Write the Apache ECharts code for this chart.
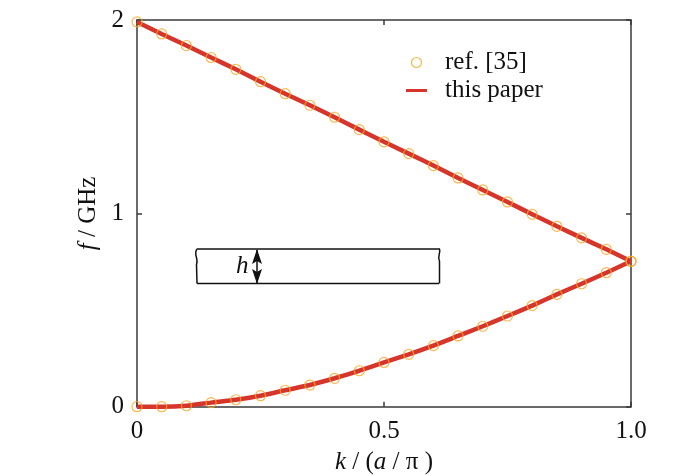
<!DOCTYPE html>
<html>
<head>
<meta charset="utf-8">
<script src="https://cdn.jsdelivr.net/npm/echarts@6/dist/echarts.min.js"></script>
<style>html,body{margin:0;padding:0;background:#fff;}#c{width:700px;height:476px;}</style>
</head>
<body>
<div id="c"></div>
<script>
var kValues = [0,0.05,0.1,0.15,0.2,0.25,0.3,0.35,0.4,0.45,0.5,0.55,0.6,0.65,0.7,0.75,0.8,0.85,0.9,0.95,1.0];
var fUpper = [1.99,1.928,1.868,1.806,1.745,1.681,1.619,1.559,1.497,1.433,1.370,1.309,1.247,1.183,1.121,1.059,0.995,0.933,0.873,0.814,0.752];
var fLower = [0.0,0.0,0.005,0.021,0.036,0.057,0.085,0.112,0.147,0.186,0.229,0.271,0.316,0.366,0.416,0.469,0.523,0.581,0.636,0.693,0.752];
var xTicks = [0,0.5,1.0];
var yTicks = [0,1,2];
var xTickLabels = ['0','0.5','1.0'];
var yTickLabels = ['0','1','2'];

var FONT = 'Liberation Serif';
var FS = 25;
var RED = '#d6352b';
var ORANGE = '#f5a623';
var AX = '#3a3a3a';

function pairs(xs, ys){ return xs.map(function(x,i){ return [x, ys[i]]; }); }

var chart = echarts.init(document.getElementById('c'), null, {renderer:'canvas'});
function axisBase(){
  return {
    axisLine:{show:true, onZero:false, lineStyle:{color:AX, width:1.5}},
    axisTick:{show:true, inside:true, length:5, lineStyle:{color:AX, width:1.5}},
    splitLine:{show:false}
  };
}
var richItalic = {i:{fontStyle:'italic', fontFamily:FONT, fontSize:FS, color:'#111'}};
chart.setOption({
  animation:false,
  grid:{left:137, right:69, top:20, bottom:69.3, containLabel:false, outerBoundsMode:'none'},
  legend:{
    orient:'vertical', left:401, top:45, itemWidth:21, itemHeight:10, itemGap:3,
    textStyle:{fontFamily:FONT, fontSize:FS, color:'#111', padding:[0,0,0,13]},
    data:[
      {name:'ref. [35]', icon:'circle', itemStyle:{color:'rgba(0,0,0,0)', borderColor:ORANGE, borderWidth:1.2}},
      {name:'this paper', icon:'path://M0,0L21,0L21,3L0,3Z', itemStyle:{color:RED}}
    ]
  },
  xAxis:[
    Object.assign(axisBase(), {
      type:'value', position:'bottom', min:0, max:1, interval:0.5,
      axisLabel:{show:true, margin:12, fontFamily:FONT, fontSize:FS, color:'#111',
        customValues:xTicks,
        formatter:function(v){ var i = xTicks.indexOf(v); return i>=0 ? xTickLabels[i] : ''; }},
      name:'{i|k} / ({i|a} / π )', nameLocation:'middle', nameGap:43,
      nameTextStyle:{fontFamily:FONT, fontSize:FS, color:'#111', rich:richItalic}
    }),
    Object.assign(axisBase(), {
      type:'value', position:'top', min:0, max:1, interval:0.5,
      axisLabel:{show:false}
    })
  ],
  yAxis:[
    Object.assign(axisBase(), {
      type:'value', position:'left', min:0, max:2, interval:1,
      axisLabel:{show:true, margin:13, fontFamily:FONT, fontSize:FS, color:'#111',
        customValues:yTicks,
        formatter:function(v){ var i = yTicks.indexOf(v); return i>=0 ? yTickLabels[i] : ''; }},
      name:'{i|f} / GHz', nameLocation:'middle', nameGap:31,
      nameTextStyle:{fontFamily:FONT, fontSize:FS, color:'#111', rich:richItalic}
    }),
    Object.assign(axisBase(), {
      type:'value', position:'right', min:0, max:2, interval:1,
      axisLabel:{show:false}
    })
  ],
  series:[
    {name:'this paper', type:'line', data:pairs(kValues, fUpper), smooth:0.2, showSymbol:false, symbol:'none',
      lineStyle:{color:RED, width:4.5}, itemStyle:{color:RED}, z:2, clip:false},
    {name:'this paper', type:'line', data:pairs(kValues, fLower), smooth:0.2, showSymbol:false, symbol:'none',
      lineStyle:{color:RED, width:4.5}, itemStyle:{color:RED}, z:2, clip:false},
    {name:'ref. [35]', type:'scatter', data:pairs(kValues, fUpper).concat(pairs(kValues, fLower)),
      symbol:'circle', symbolSize:10,
      itemStyle:{color:'rgba(0,0,0,0)', borderColor:ORANGE, borderWidth:1.2}, z:3, clip:false}
  ],
  graphic:[
    {type:'line', shape:{x1:197, y1:249, x2:440, y2:249}, style:{stroke:'#111', lineWidth:1.5}},
    {type:'line', shape:{x1:197, y1:283.5, x2:439, y2:283.5}, style:{stroke:'#111', lineWidth:1.5}},
    {type:'bezierCurve', shape:{x1:197, y1:249, cpx1:193, cpy1:254, cpx2:199, cpy2:259, x2:196.5, y2:264}, style:{stroke:'#111', lineWidth:1.5, fill:null}},
    {type:'line', shape:{x1:196.5, y1:264, x2:197, y2:283.5}, style:{stroke:'#111', lineWidth:1.5}},
    {type:'bezierCurve', shape:{x1:439.5, y1:249, cpx1:441, cpy1:253, cpx2:437, cpy2:256, x2:439.5, y2:261}, style:{stroke:'#111', lineWidth:1.5, fill:null}},
    {type:'line', shape:{x1:439.5, y1:261, x2:439.5, y2:283.5}, style:{stroke:'#111', lineWidth:1.5}},
    {type:'line', shape:{x1:257, y1:250, x2:257, y2:283}, style:{stroke:'#111', lineWidth:1.5}},
    {type:'polygon', shape:{points:[[257,249],[262,264],[257,261],[252,264]]}, style:{fill:'#111'}},
    {type:'polygon', shape:{points:[[257,284],[262,269],[257,272],[252,269]]}, style:{fill:'#111'}},
    {type:'text', left:236, top:254, style:{text:'h', font:'italic 25px "Liberation Serif"', fill:'#111'}}
  ]
});
</script>
</body>
</html>
